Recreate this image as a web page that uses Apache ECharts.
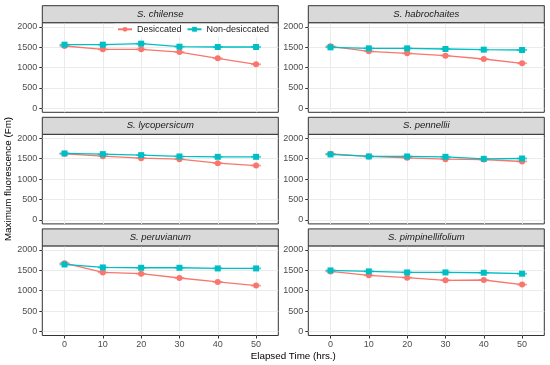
<!DOCTYPE html>
<html>
<head>
<meta charset="utf-8">
<script src="https://cdn.jsdelivr.net/npm/echarts@6/dist/echarts.min.js"></script>
<style>
html,body{margin:0;padding:0;background:#fff;}
#c{width:550px;height:365px;}
</style>
</head>
<body>
<div id="c"></div>
<script>
// ---- data ----
const hours = [0, 10, 20, 30, 40, 50];
const panels = ['S. chilense', 'S. habrochaites', 'S. lycopersicum', 'S. pennellii', 'S. peruvianum', 'S. pimpinellifolium'];
const desiccated = [
  [1528, 1446, 1446, 1380, 1225, 1078],
  [1520, 1397, 1348, 1291, 1209, 1103],
  [1621, 1564, 1514, 1490, 1391, 1333],
  [1621, 1556, 1523, 1490, 1481, 1432],
  [1676, 1449, 1417, 1312, 1215, 1126],
  [1474, 1377, 1320, 1255, 1263, 1150]
];
const nonDesiccated = [
  [1560, 1560, 1585, 1511, 1503, 1503],
  [1495, 1470, 1470, 1454, 1438, 1430],
  [1630, 1613, 1588, 1556, 1547, 1547],
  [1605, 1556, 1556, 1547, 1498, 1506],
  [1644, 1571, 1563, 1563, 1547, 1547],
  [1498, 1474, 1449, 1449, 1441, 1417]
];
const xTicks = [0, 10, 20, 30, 40, 50];
const yTicks = [0, 500, 1000, 1500, 2000];
const seriesNames = ['Desiccated', 'Non-desiccated'];

// ---- layout ----
const RED = '#F8766D', CYAN = '#00BFC4';
const PW = 236, PH = 89.6, L0 = 42.3, COLSTEP = 266, T0 = 22.7, ROWSTEP = 111.6, STRIP = 17;

const grids = [], xAxes = [], yAxes = [], series = [], graphics = [];

function capSeries(gi, vals, color) {
  return {
    type: 'custom', xAxisIndex: gi, yAxisIndex: gi, z: 3, silent: true,
    data: hours.map((h, k) => [h, vals[k]]),
    renderItem: function (params, api) {
      const x = api.value(0), y = api.value(1);
      const p1 = api.coord([x - 1.3, y]), p2 = api.coord([x + 1.3, y]);
      return { type: 'line', shape: { x1: p1[0], y1: p1[1], x2: p2[0], y2: p2[1] },
        style: { stroke: color, lineWidth: 1.8, opacity: 0.7 } };
    }
  };
}

panels.forEach((name, i) => {
  const row = Math.floor(i / 2), col = i % 2;
  const left = L0 + COLSTEP * col, top = T0 + ROWSTEP * row;
  const bottomRow = row === 2;
  grids.push({ left: left, top: top, width: PW, height: PH, show: true, backgroundColor: '#fff',
    borderColor: '#333333', borderWidth: 1, containLabel: false });
  xAxes.push({
    type: 'value', gridIndex: i, min: -5.8, max: 55.8, position: 'bottom',
    axisLine: { show: false, onZero: false },
    axisTick: { show: bottomRow, customValues: xTicks, length: 3, lineStyle: { color: '#333333' } },
    axisLabel: { show: bottomRow, customValues: xTicks, fontSize: 9, color: '#4D4D4D', margin: 5,
      fontFamily: 'Liberation Sans', formatter: v => String(v) },
    splitLine: { show: true, lineStyle: { color: '#EBEBEB', width: 1 } }
  });
  yAxes.push({
    type: 'value', gridIndex: i, min: -100, max: 2100, position: 'left',
    axisLine: { show: false, onZero: false },
    axisTick: { show: true, customValues: yTicks, length: 3, lineStyle: { color: '#333333' } },
    axisLabel: { show: true, customValues: yTicks, fontSize: 9, color: '#4D4D4D', margin: 5,
      fontFamily: 'Liberation Sans', formatter: v => String(v) },
    splitLine: { show: true, lineStyle: { color: '#EBEBEB', width: 1 } }
  });
  series.push(capSeries(i, desiccated[i], RED));
  series.push({
    name: seriesNames[0], type: 'line', xAxisIndex: i, yAxisIndex: i, z: 4,
    data: hours.map((h, k) => [h, desiccated[i][k]]),
    symbol: 'circle', symbolSize: 6, itemStyle: { color: RED }, lineStyle: { color: RED, width: 1.3 },
    animation: false
  });
  series.push(capSeries(i, nonDesiccated[i], CYAN));
  series.push({
    name: seriesNames[1], type: 'line', xAxisIndex: i, yAxisIndex: i, z: 5,
    data: hours.map((h, k) => [h, nonDesiccated[i][k]]),
    symbol: 'rect', symbolSize: 6, itemStyle: { color: CYAN }, lineStyle: { color: CYAN, width: 1.3 },
    animation: false
  });
  graphics.push({
    type: 'rect', shape: { x: left, y: top - STRIP, width: PW, height: STRIP },
    style: { fill: '#D9D9D9', stroke: '#333333', lineWidth: 1 }, z: 10
  });
  graphics.push({
    type: 'text', x: left + PW / 2, y: top - STRIP / 2, z: 11,
    style: { text: name, fontSize: 9.5, fontStyle: 'italic', fill: '#1A1A1A', fontFamily: 'Liberation Sans',
      align: 'center', verticalAlign: 'middle' }
  });
});

graphics.push({
  type: 'text', x: 8, y: 179, rotation: Math.PI / 2, z: 11,
  style: { text: 'Maximum fluorescence (Fm)', fontSize: 9.8, fill: '#000', fontFamily: 'Liberation Sans',
    align: 'center', verticalAlign: 'middle' }
});
graphics.push({
  type: 'text', x: 293.3, y: 356, z: 11,
  style: { text: 'Elapsed Time (hrs.)', fontSize: 9.8, fill: '#000', fontFamily: 'Liberation Sans',
    align: 'center', verticalAlign: 'middle' }
});

const chart = echarts.init(document.getElementById('c'), null, { renderer: 'canvas' });
chart.setOption({
  animation: false,
  backgroundColor: '#fff',
  grid: grids, xAxis: xAxes, yAxis: yAxes, series: series,
  legend: {
    data: seriesNames, left: 114, top: 23.8, itemWidth: 14, itemHeight: 6, itemGap: 5,
    backgroundColor: '#fff', padding: [1, 3, 3, 3], z: 20,
    textStyle: { fontSize: 9, color: '#1A1A1A', fontFamily: 'Liberation Sans' }
  },
  graphic: graphics
});
</script>
</body>
</html>
